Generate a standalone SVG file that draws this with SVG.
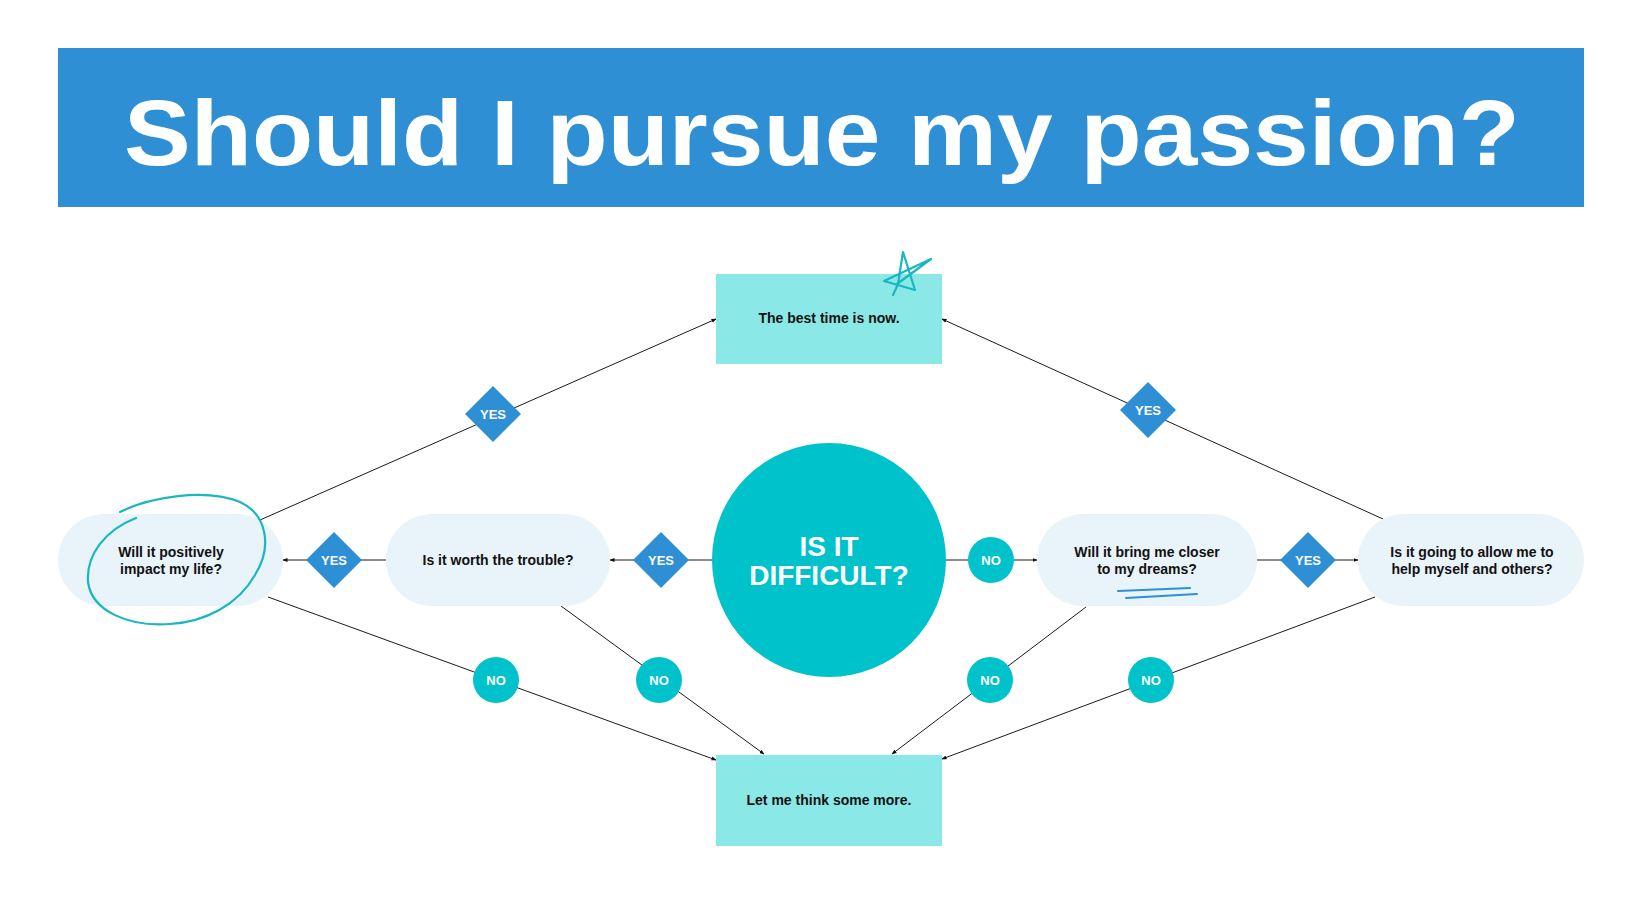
<svg xmlns="http://www.w3.org/2000/svg" width="1641" height="923" viewBox="0 0 1641 923">
<defs>
<style>
.t{font-family:"Liberation Sans",Arial,sans-serif;font-weight:700;fill:#111;font-size:14px;text-anchor:middle}
.w{font-family:"Liberation Sans",Arial,sans-serif;font-weight:700;fill:#fff;text-anchor:middle}
.pill{fill:#e8f3fa}
.box{fill:#8ae8e7}
.yes{fill:#2f8fd4}
.no{fill:#00c2ca}
.ln{stroke:#1a1a1a;stroke-width:1;fill:none}
</style>
<marker id="ah" viewBox="0 0 10 10" refX="9" refY="5" markerWidth="5" markerHeight="5" orient="auto" markerUnits="userSpaceOnUse">
<path d="M0,1 L10,5 L0,9 Z" fill="#111"/>
</marker>
</defs>
<rect width="1641" height="923" fill="#ffffff"/>
<g id="title">
<rect x="58" y="48" width="1526" height="159" fill="#2e8fd4"/>
<text class="w" x="822" y="165" font-size="92" textLength="1396" lengthAdjust="spacingAndGlyphs">Should I pursue my passion?</text>
</g>
<g id="connectors">
<line class="ln" x1="260" y1="520" x2="716" y2="319" marker-end="url(#ah)"/>
<line class="ln" x1="1383" y1="519" x2="942" y2="319" marker-end="url(#ah)"/>
<line class="ln" x1="713" y1="560" x2="610" y2="560" marker-end="url(#ah)"/>
<line class="ln" x1="386" y1="560" x2="283" y2="560" marker-end="url(#ah)"/>
<line class="ln" x1="946" y1="560" x2="1037" y2="560" marker-end="url(#ah)"/>
<line class="ln" x1="1257" y1="560" x2="1358" y2="560" marker-end="url(#ah)"/>
<line class="ln" x1="268" y1="597" x2="716" y2="760" marker-end="url(#ah)"/>
<line class="ln" x1="561" y1="606" x2="764" y2="754" marker-end="url(#ah)"/>
<line class="ln" x1="1086" y1="607" x2="892" y2="754" marker-end="url(#ah)"/>
<line class="ln" x1="1375" y1="597" x2="942" y2="759" marker-end="url(#ah)"/>
</g>
<g id="best-time">
<rect class="box" x="716" y="274" width="226" height="90"/>
<text class="t" x="829" y="323">The best time is now.</text>
<path d="M893,295 L898,284 L903,252 L915,290 L884,281 L931,259 L897,284" fill="none" stroke="#19b7c0" stroke-width="2.2" stroke-linecap="round" stroke-linejoin="round"/>
</g>
<g id="think-more">
<rect class="box" x="716" y="755" width="226" height="91"/>
<text class="t" x="829" y="805">Let me think some more.</text>
</g>
<g id="difficult">
<circle cx="829" cy="560" r="117" fill="#00c2ca"/>
<text class="w" x="829" y="556" font-size="28">IS IT</text>
<text class="w" x="829" y="585" font-size="28">DIFFICULT?</text>
</g>
<g id="positive-impact">
<rect class="pill" x="58" y="514" width="225" height="92" rx="46"/>
<text class="t" x="171" y="557">Will it positively</text>
<text class="t" x="171" y="574">impact my life?</text>
<path d="M120,512 C150,497 205,488 240,502 C268,515 272,548 255,575 C238,605 205,622 170,624 C130,627 92,612 88,582 C86,555 105,530 136,518" fill="none" stroke="#19b7c0" stroke-width="2.2" stroke-linecap="round"/>
</g>
<g id="worth-trouble">
<rect class="pill" x="386" y="514" width="224" height="92" rx="46"/>
<text class="t" x="498" y="565">Is it worth the trouble?</text>
</g>
<g id="closer-dreams">
<rect class="pill" x="1037" y="514" width="220" height="92" rx="46"/>
<text class="t" x="1147" y="557">Will it bring me closer</text>
<text class="t" x="1147" y="574">to my dreams?</text>
<path d="M1118,591 L1190,588 M1126,598 L1197,594" fill="none" stroke="#2f8fd4" stroke-width="2" stroke-linecap="round"/>
</g>
<g id="help-others">
<rect class="pill" x="1358" y="514" width="226" height="92" rx="46"/>
<text class="t" x="1472" y="557">Is it going to allow me to</text>
<text class="t" x="1472" y="574">help myself and others?</text>
</g>
<g id="yes-top-left">
<path class="yes" d="M493,386 L521,414 L493,442 L465,414 Z"/>
<text class="w" x="493" y="419" font-size="13">YES</text>
</g>
<g id="yes-top-right">
<path class="yes" d="M1148,382 L1176,410 L1148,438 L1120,410 Z"/>
<text class="w" x="1148" y="415" font-size="13">YES</text>
</g>
<g id="yes-left">
<path class="yes" d="M334,532 L362,560 L334,588 L306,560 Z"/>
<text class="w" x="334" y="565" font-size="13">YES</text>
</g>
<g id="yes-mid">
<path class="yes" d="M661,532 L689,560 L661,588 L633,560 Z"/>
<text class="w" x="661" y="565" font-size="13">YES</text>
</g>
<g id="yes-right">
<path class="yes" d="M1308,532 L1336,560 L1308,588 L1280,560 Z"/>
<text class="w" x="1308" y="565" font-size="13">YES</text>
</g>
<g id="no-right">
<circle class="no" cx="991" cy="560" r="23"/>
<text class="w" x="991" y="565" font-size="13">NO</text>
</g>
<g id="no-1">
<circle class="no" cx="496" cy="680" r="23"/>
<text class="w" x="496" y="685" font-size="13">NO</text>
</g>
<g id="no-2">
<circle class="no" cx="659" cy="680" r="23"/>
<text class="w" x="659" y="685" font-size="13">NO</text>
</g>
<g id="no-3">
<circle class="no" cx="990" cy="680" r="23"/>
<text class="w" x="990" y="685" font-size="13">NO</text>
</g>
<g id="no-4">
<circle class="no" cx="1151" cy="680" r="23"/>
<text class="w" x="1151" y="685" font-size="13">NO</text>
</g>
</svg>
